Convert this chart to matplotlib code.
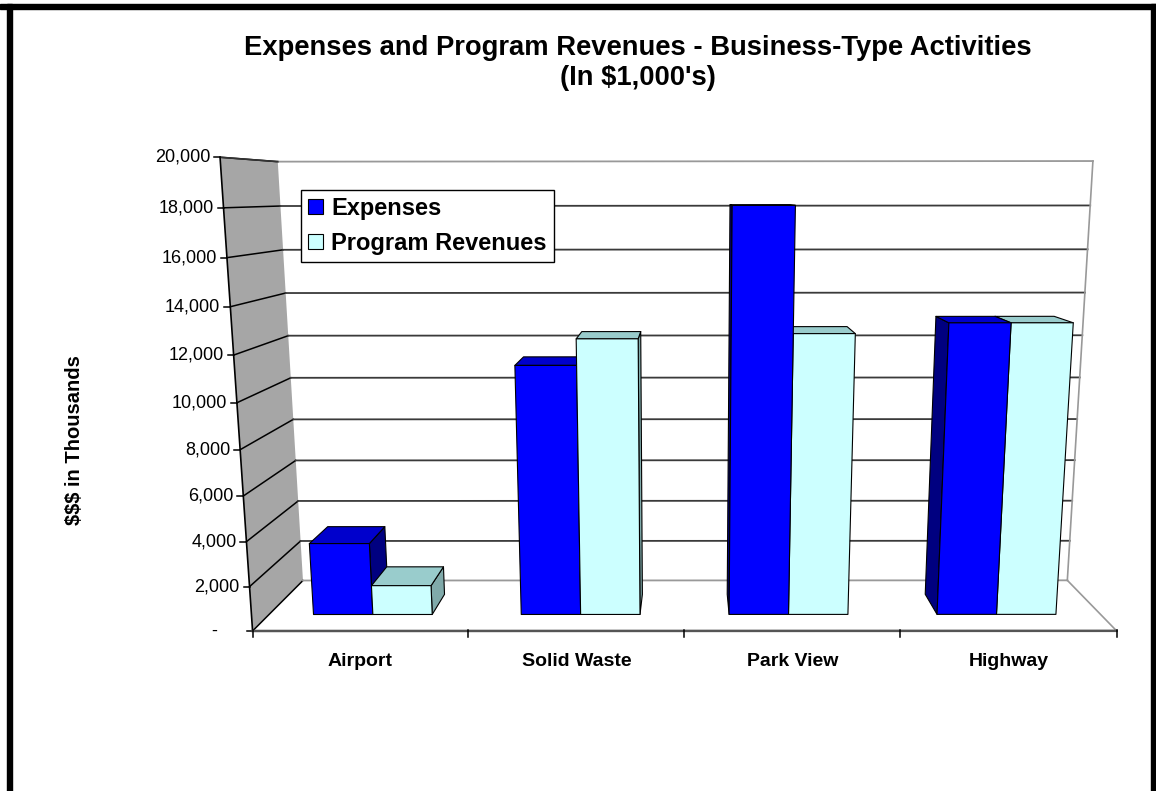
import numpy as np
import matplotlib
matplotlib.use("Agg")
import matplotlib.pyplot as plt
from matplotlib.patches import Polygon, Rectangle, Patch

plt.rcParams['font.family'] = ['Liberation Sans', 'DejaVu Sans']

# ---- data (in $1,000's) ----
categories = ["Airport", "Solid Waste", "Park View", "Highway"]
series_names = ["Expenses", "Program Revenues"]
expenses = [3300, 11270, 18060, 13100]
program_revenues = [1350, 12420, 12640, 13100]
y_ticks = [0, 2000, 4000, 6000, 8000, 10000, 12000, 14000, 16000, 18000, 20000]
y_max = 20000

title = "Expenses and Program Revenues - Business-Type Activities\n(In $1,000's)"
y_label = "$$$ in Thousands"

# ---- styling ----
W, H = 1156, 791
face_colors = {
    "Expenses": dict(front="#0000FF", top="#0000CC", side="#000080"),
    "Program Revenues": dict(front="#CCFFFF", top="#99CCCC", side="#80AAAA"),
}
wall_gray = "#A6A6A6"
gap_width = 1.5          # Excel-style gap between clusters (in bar widths)
depth_front, depth_back = 0.3, 0.7

# ---- perspective camera fitted on the plot box corners ----
# world: X = category units (0..n), Y = value / y_max (0..1), Z = depth (0 front, 1 back)
n_cat = len(categories)
frame_world = []
frame_pix = []
front_left_px = [(253, 630), (249, 587), (246, 542), (243, 496), (241, 450), (237, 403),
                 (233, 355), (229, 307), (225, 258), (223, 208), (222, 159)]
back_right_y = [581, 542, 501, 461, 419, 377, 334, 292, 249, 206, 161]
for k, (px, py) in enumerate(front_left_px):
    frame_world.append((0, k / 10, 0)); frame_pix.append((px, py))
for k, py in enumerate(back_right_y):
    px = 1067 + (581 - py) / (581 - 161) * (1093 - 1067)
    frame_world.append((n_cat, k / 10, 1)); frame_pix.append((px, py))
frame_world += [(0, 0, 1), (0, 1, 1), (n_cat, 0, 0), (1, 0, 0), (2, 0, 0), (3, 0, 0)]
frame_pix += [(303, 581), (279, 160), (1117, 631), (469, 630), (685, 630), (901, 630)]


def fit_camera(world, pix):
    pix = np.asarray(pix, float)
    c = pix.mean(axis=0); s = 500.0
    T = np.array([[1 / s, 0, -c[0] / s], [0, 1 / s, -c[1] / s], [0, 0, 1]])
    rows = []
    for (X, Y, Z), (u, v) in zip(world, pix):
        u, v = (u - c[0]) / s, (v - c[1]) / s
        rows.append([X, Y, Z, 1, 0, 0, 0, 0, -u * X, -u * Y, -u * Z, -u])
        rows.append([0, 0, 0, 0, X, Y, Z, 1, -v * X, -v * Y, -v * Z, -v])
    _, _, vt = np.linalg.svd(np.array(rows))
    Pn = vt[-1].reshape(3, 4)
    return np.linalg.inv(T) @ Pn


P = fit_camera(frame_world, frame_pix)
_, _, vt = np.linalg.svd(P)
cam = vt[-1]
cam = cam[:3] / cam[3]


def proj(X, Y, Z):
    p = P @ np.array([X, Y, Z, 1.0])
    return p[0] / p[2], p[1] / p[2]


def poly(pts):
    return [proj(*p) for p in pts]


fig = plt.figure(figsize=(W / 100, H / 100), dpi=100)
ax = fig.add_axes([0, 0, 1, 1])
ax.set_xlim(0, W)
ax.set_ylim(H, 0)
ax.axis("off")

# outer frame
ax.add_patch(Rectangle((0, 4), W, 4.5, color="black", zorder=10))
ax.add_patch(Rectangle((7, 4), 5, H, color="black", zorder=10))
ax.add_patch(Rectangle((W - 5, 4), 5, H, color="black", zorder=10))

# side wall
ax.add_patch(Polygon(poly([(0, 0, 0), (0, 1, 0), (0, 1, 1), (0, 0, 1)]),
                     closed=True, facecolor=wall_gray, edgecolor="none", zorder=1))

# gridlines
for t in y_ticks:
    yv = t / y_max
    a, b = proj(0, yv, 0), proj(0, yv, 1)
    ax.plot([a[0], b[0]], [a[1], b[1]], color="black", lw=1.1, zorder=2)
    c = proj(n_cat, yv, 1)
    col = "#999999" if t in (0, y_max) else "#3A3A3A"
    ax.plot([b[0], c[0]], [b[1], c[1]], color=col, lw=1.3, zorder=2)
    # tick + label on value axis
    ax.plot([a[0] - 6, a[0]], [a[1], a[1]], color="black", lw=1.1, zorder=2)
    lab = f"{t:,.0f}" if t else "-"
    off = 10 if t else 35
    ax.text(a[0] - off, a[1], lab, ha="right", va="center", fontsize=13, zorder=5)

# wall / floor outlines
for p0, p1, col in [((0, 1, 0), (0, 1, 1), "#333333"),
                    ((n_cat, 0, 1), (n_cat, 1, 1), "#999999"),
                    ((n_cat, 0, 0), (n_cat, 0, 1), "#999999"),
                    ((0, 0, 0), (0, 1, 0), "black")]:
    a, b = proj(*p0), proj(*p1)
    ax.plot([a[0], b[0]], [a[1], b[1]], color=col, lw=1.2, zorder=2)

# category axis
a, b = proj(0, 0, 0), proj(n_cat, 0, 0)
ax.plot([a[0], b[0]], [a[1], b[1]], color="#555555", lw=1.8, zorder=2)
for i in range(n_cat + 1):
    t = proj(i, 0, 0)
    ax.plot([t[0], t[0]], [t[1] - 1, t[1] + 6], color="black", lw=1.1, zorder=2)
for i, name in enumerate(categories):
    t = proj(i + 0.5, 0, 0)
    ax.text(t[0], t[1] + 31, name, ha="center", va="center", fontsize=14,
            fontweight="bold", zorder=5)

# bars
bar_w = 1.0 / (len(series_names) + gap_width)
bars = []
for s, (name, vals) in enumerate(zip(series_names, [expenses, program_revenues])):
    for i, v in enumerate(vals):
        x0 = i + gap_width / 2 * bar_w + s * bar_w
        bars.append((name, x0, x0 + bar_w, v / y_max))

bars.sort(key=lambda b: -abs((b[1] + b[2]) / 2 - cam[0]))
for k, (name, x0, x1, h) in enumerate(bars):
    cols = face_colors[name]
    z0, z1 = depth_front, depth_back
    faces = []
    if cam[0] < x0:
        faces.append(([(x0, 0, z0), (x0, h, z0), (x0, h, z1), (x0, 0, z1)], cols["side"]))
    if cam[0] > x1:
        faces.append(([(x1, 0, z0), (x1, h, z0), (x1, h, z1), (x1, 0, z1)], cols["side"]))
    if cam[1] > h:
        faces.append(([(x0, h, z0), (x1, h, z0), (x1, h, z1), (x0, h, z1)], cols["top"]))
    faces.append(([(x0, 0, z0), (x1, 0, z0), (x1, h, z0), (x0, h, z0)], cols["front"]))
    for pts, fc in faces:
        ax.add_patch(Polygon(poly(pts), closed=True, facecolor=fc, edgecolor="black",
                             lw=0.8, joinstyle="round", zorder=3 + k * 0.01))

# legend
handles = [Patch(facecolor=face_colors[n]["front"], edgecolor="black", lw=0.8) for n in series_names]
leg = ax.legend(handles, series_names, loc="upper left", bbox_to_anchor=(301, 190),
                bbox_transform=ax.transData, prop=dict(size=17, weight="bold"),
                frameon=True, fancybox=False, edgecolor="black", framealpha=1,
                handlelength=0.62, handleheight=0.62, handletextpad=0.35,
                labelspacing=0.5, borderpad=0.3, borderaxespad=0)
leg.get_frame().set_linewidth(1.0)
leg.set_zorder(6)

# titles
ax.text(638, 63, title, ha="center", va="center", fontsize=19.7, fontweight="bold",
        linespacing=1.22, zorder=5)
ax.text(75, 440, y_label, ha="center", va="center", rotation=90, fontsize=14.5,
        fontweight="bold", zorder=5)

fig.savefig("out.png", dpi=100, facecolor="white")
